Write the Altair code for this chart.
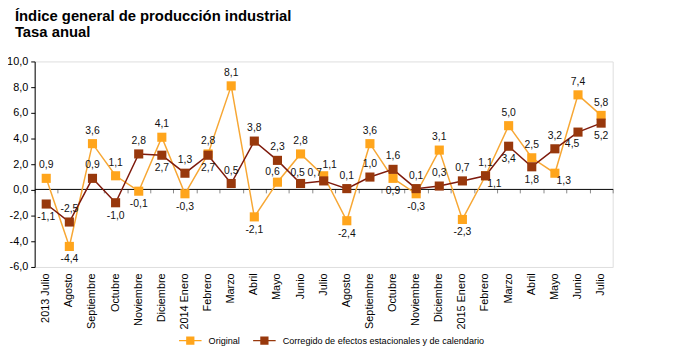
import json
import altair as alt
import pandas as pd

meses = ["2013 Julio", "Agosto", "Septiembre", "Octubre", "Noviembre", "Diciembre",
         "2014 Enero", "Febrero", "Marzo", "Abril", "Mayo", "Junio", "Julio",
         "Agosto", "Septiembre", "Octubre", "Noviembre", "Diciembre",
         "2015 Enero", "Febrero", "Marzo", "Abril", "Mayo", "Junio", "Julio"]

original = [0.9, -4.4, 3.6, 1.1, -0.1, 4.1, -0.3, 2.8, 8.1, -2.1, 0.6, 2.8, 1.1,
            -2.4, 3.6, 0.9, -0.3, 3.1, -2.3, 1.1, 5.0, 2.5, 1.3, 7.4, 5.8]
corregido = [-1.1, -2.5, 0.9, -1.0, 2.8, 2.7, 1.3, 2.7, 0.5, 3.8, 2.3, 0.5, 0.7,
             0.1, 1.0, 1.6, 0.1, 0.3, 0.7, 1.1, 3.4, 1.8, 3.2, 4.5, 5.2]

# label placement codes: a above, b below, al/ar above-left/right, bl/br below-left/right
pos_original = ["a", "b", "a", "a", "b", "a", "b", "a", "a", "b", "al", "a", "ar",
                "b", "a", "b", "b", "a", "b", "a", "a", "a", "br", "a", "a"]
pos_corregido = ["b", "a", "a", "b", "a", "b", "a", "b", "a", "a", "a", "al3", "al2",
                 "a", "a", "a", "a", "a", "a", "br", "b", "b", "a", "bl", "b"]

S1 = "Original"
S2 = "Corregido de efectos estacionales y de calendario"

OFFSETS = {"a": (0, -13), "b": (0, 13), "al": (-5, -10), "al2": (-9, -8),
           "al3": (-3, -11), "ar": (6, -11), "bl": (-6, 12), "br": (9, 8)}

rows = []
for i in range(len(meses)):
    rows.append({"i": i, "serie": S1, "valor": original[i], "pos": pos_original[i]})
for i in range(len(meses)):
    rows.append({"i": i, "serie": S2, "valor": corregido[i], "pos": pos_corregido[i]})
df = pd.DataFrame(rows)

label_expr = json.dumps(meses) + "[datum.value]"
FONT = "Liberation Sans"
NUM = "replace(replace(format({v}, '.1f'), '.', ','), '\u2212', '-')"

x_none = alt.X("i:O", axis=None, scale=alt.Scale(paddingInner=0, paddingOuter=0))
y_enc = alt.Y("valor:Q", scale=alt.Scale(domain=[-6, 10], nice=False),
              axis=alt.Axis(values=list(range(-6, 11, 2)),
                            labelExpr=NUM.format(v="datum.value"),
                            grid=False, domainColor="black", tickColor="black",
                            tickSize=4, labelFontSize=11, labelColor="black",
                            labelPadding=3, title=None))

base = alt.Chart(df)

line_orig = base.transform_filter(alt.datum.serie == S1).mark_line(
    color="#F7A734", strokeWidth=1.5).encode(
    x=alt.X("i:O", scale=alt.Scale(paddingInner=0, paddingOuter=0),
            axis=alt.Axis(orient="bottom", labelExpr=label_expr, labelAngle=-90,
                          labelAlign="right", labelBaseline="middle",
                          domain=False, ticks=False, labelPadding=6,
                          labelFontSize=11, labelColor="black", title=None)),
    y=y_enc)

line_corr = base.transform_filter(alt.datum.serie == S2).mark_line(
    color="#7E1A0C", strokeWidth=1.5).encode(
    x=alt.X("i:O", scale=alt.Scale(paddingInner=0, paddingOuter=0),
            axis=alt.Axis(orient="bottom", offset=-79, labels=False, domain=True,
                          domainColor="black", ticks=True, tickColor="#888888",
                          tickSize=4, tickBand="extent", grid=False, title=None)),
    y=y_enc)

points = base.mark_point(shape="square", filled=True, size=85, opacity=1).encode(
    x=x_none, y=y_enc,
    color=alt.Color("serie:N",
                    scale=alt.Scale(domain=[S1, S2], range=["#FFA51C", "#98380C"]),
                    sort=[S1, S2],
                    legend=alt.Legend(
                        title=None, orient="none", direction="horizontal",
                        legendX=145, legendY=270,
                        symbolType="M-1,0H1M-0.3,-0.3H0.3V0.3H-0.3Z",
                        symbolSize=520, symbolStrokeWidth=1.5,
                        symbolStrokeColor=alt.ExprRef(expr="scale('color', datum.value)"),
                        labelFontSize=9.2, labelColor="black", labelOffset=6,
                        labelLimit=400, columnPadding=10)),
    order=alt.Order("serie:N", sort="descending"))

lab = alt.Text("lab:N")
texts = []
for s in [S1, S2]:
    for p, (dx, dy) in OFFSETS.items():
        t = base.transform_filter((alt.datum.serie == s) & (alt.datum.pos == p)).transform_calculate(
            lab=NUM.format(v="datum.valor")).mark_text(
            dx=dx, dy=dy, fontSize=10.5, color="#111111", baseline="middle", font=FONT).encode(
            x=x_none, y=y_enc, text=lab)
        texts.append(t)

chart = alt.layer(line_orig, line_corr, points, *texts).resolve_axis(
    x="independent").properties(
    width=585, height=208,
    autosize=alt.AutoSizeParams(type="none"),
    padding={"left": 27, "top": 52, "right": 57, "bottom": 88},
    title=alt.TitleParams(
        text=["Índice general de producción industrial", "Tasa anual"],
        anchor="start", dx=-20, offset=16, fontSize=15, fontWeight="bold",
        font=FONT, color="black", lineHeight=16, frame="group"),
).configure_view(stroke=None).configure(font=FONT)

chart.save("out.html", embed_options={"renderer": "svg", "actions": False})
